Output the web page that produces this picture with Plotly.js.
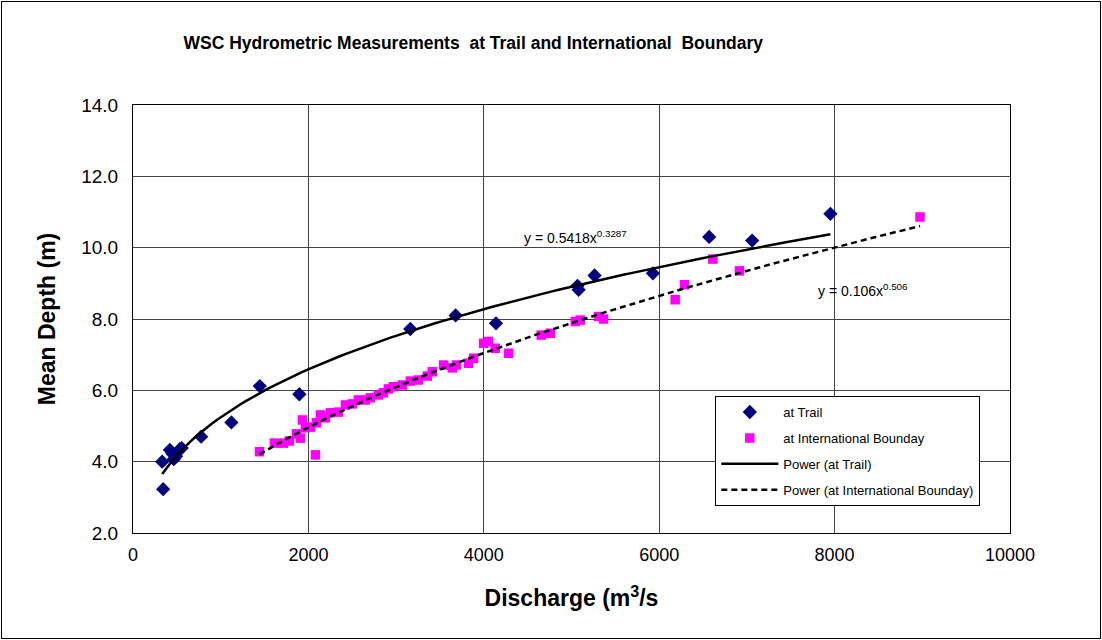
<!DOCTYPE html>
<html>
<head>
<meta charset="utf-8">
<script src="https://cdn.plot.ly/plotly-3.0.1.min.js"></script>
<style>
html,body{margin:0;padding:0;background:#fff;}
#wrap{position:relative;width:1102px;height:640px;}
#chart{width:1102px;height:640px;}
#frame{position:absolute;left:1px;top:1px;width:1098px;height:636px;border:1px solid #000;pointer-events:none;}
</style>
</head>
<body>
<div id="wrap"><div id="chart"></div><div id="frame"></div></div>
<script>
const trailQ = [333, 344, 420, 450, 465, 490, 534, 555, 777, 1122, 1445, 1897, 3162, 3679, 4139, 5069, 5081, 5263, 5928, 6570, 7060, 7952];
const trailD = [4.00, 3.23, 4.33, 4.22, 4.07, 4.15, 4.35, 4.38, 4.70, 5.10, 6.12, 5.89, 7.72, 8.10, 7.88, 8.93, 8.82, 9.22, 9.28, 10.30, 10.20, 10.95];

const boundQ = [1442, 1613, 1715, 1783, 1863, 1909, 1932, 1966, 2023, 2080, 2091, 2137, 2194, 2251, 2342, 2422, 2502, 2570, 2650, 2707, 2798, 2855, 2912, 2969, 3072, 3163, 3254, 3356, 3413, 3542, 3641, 3687, 3827, 3884, 3998, 4055, 4131, 4283, 4655, 4758, 5043, 5100, 5309, 5366, 6182, 6289, 6612, 6915, 8974];
const boundD = [4.28, 4.52, 4.52, 4.58, 4.78, 4.66, 5.17, 4.95, 4.97, 4.19, 5.09, 5.31, 5.23, 5.37, 5.39, 5.59, 5.62, 5.73, 5.73, 5.79, 5.87, 5.93, 6.04, 6.10, 6.15, 6.26, 6.29, 6.40, 6.52, 6.71, 6.63, 6.71, 6.76, 6.90, 7.32, 7.37, 7.18, 7.04, 7.55, 7.60, 7.93, 7.97, 8.07, 8.00, 8.54, 8.96, 9.68, 9.35, 10.86];

// Power trendlines as printed on the chart: y = a * x^b
const trailFit = {a: 0.5418, b: 0.3287};
const boundFit = {a: 0.106, b: 0.506};

const xTicks = [0, 2000, 4000, 6000, 8000, 10000];
const yTicks = [2, 4, 6, 8, 10, 12, 14];

function fitLine(qs, fit) {
  const lo = Math.min(...qs), hi = Math.max(...qs);
  const xs = [], ys = [];
  const n = 120;
  for (let i = 0; i <= n; i++) {
    const x = lo + (hi - lo) * i / n;
    xs.push(x);
    ys.push(fit.a * Math.pow(x, fit.b));
  }
  return {xs, ys};
}
const tl = fitLine(trailQ, trailFit);
const bl = fitLine(boundQ, boundFit);

const traces = [
  {x: trailQ, y: trailD, type: 'scatter', mode: 'markers', name: 'at Trail', legendgroup: 'a',
   marker: {symbol: 'diamond', color: '#000080', size: 11}},
  {x: boundQ, y: boundD, type: 'scatter', mode: 'markers', name: 'at International Bounday', legendgroup: 'b',
   marker: {symbol: 'square', color: '#FF00FF', size: 9.5}},
  {x: tl.xs, y: tl.ys, type: 'scatter', mode: 'lines', name: 'Power (at Trail)', legendgroup: 'c',
   line: {color: '#000', width: 2.5}},
  {x: bl.xs, y: bl.ys, type: 'scatter', mode: 'lines', name: 'Power (at International Bounday)', legendgroup: 'd',
   line: {color: '#000', width: 2.5, dash: '6px,4px'}}
];

const font = 'Liberation Sans, Arial, sans-serif';
const layout = {
  width: 1102, height: 640,
  margin: {l: 132.5, r: 92, t: 105, b: 107},
  paper_bgcolor: '#fff', plot_bgcolor: '#fff',
  font: {family: font, color: '#000'},
  showlegend: true,
  title: {text: '<b>WSC Hydrometric Measurements  at Trail and International  Boundary</b>',
          font: {family: font, size: 17.5, color: '#000'},
          xref: 'paper', x: 0.388, xanchor: 'center', yref: 'container', y: 0.933, yanchor: 'middle'},
  xaxis: {range: [0, 10000], tickvals: xTicks, ticktext: xTicks.map(String),
          showgrid: true, gridcolor: '#444', gridwidth: 1, zeroline: false,
          showline: true, linecolor: '#000', linewidth: 1, mirror: true,
          ticks: '', tickfont: {size: 18, family: font}, ticklabelstandoff: 5,
          title: {text: '<b>Discharge (m<sup>3</sup>/s</b>', font: {size: 23, family: font}, standoff: 26}},
  yaxis: {range: [2, 14], tickvals: yTicks, ticktext: yTicks.map(v => v.toFixed(1)),
          showgrid: true, gridcolor: '#444', gridwidth: 1, zeroline: false,
          showline: true, linecolor: '#000', linewidth: 1, mirror: true,
          ticks: '', tickfont: {size: 19, family: font}, ticklabelstandoff: 10,
          title: {text: '<b>Mean Depth (m)</b>', font: {size: 23, family: font}, standoff: 19}},
  legend: {x: 0.664, xanchor: 'left', y: 0.32, yanchor: 'top',
           bgcolor: '#fff', bordercolor: '#000', borderwidth: 1,
           font: {size: 13, family: font}, tracegroupgap: 6, itemwidth: 57},
  annotations: [
    {x: 5043, y: 10.30, xref: 'x', yref: 'y', showarrow: false,
     text: 'y = 0.5418x<sup>0.3287</sup>', font: {size: 14, family: font}},
    {x: 8325, y: 8.82, xref: 'x', yref: 'y', showarrow: false,
     text: 'y = 0.106x<sup>0.506</sup>', font: {size: 14, family: font}}
  ]
};

Plotly.newPlot('chart', traces, layout, {displayModeBar: false, staticPlot: true});
</script>
</body>
</html>
